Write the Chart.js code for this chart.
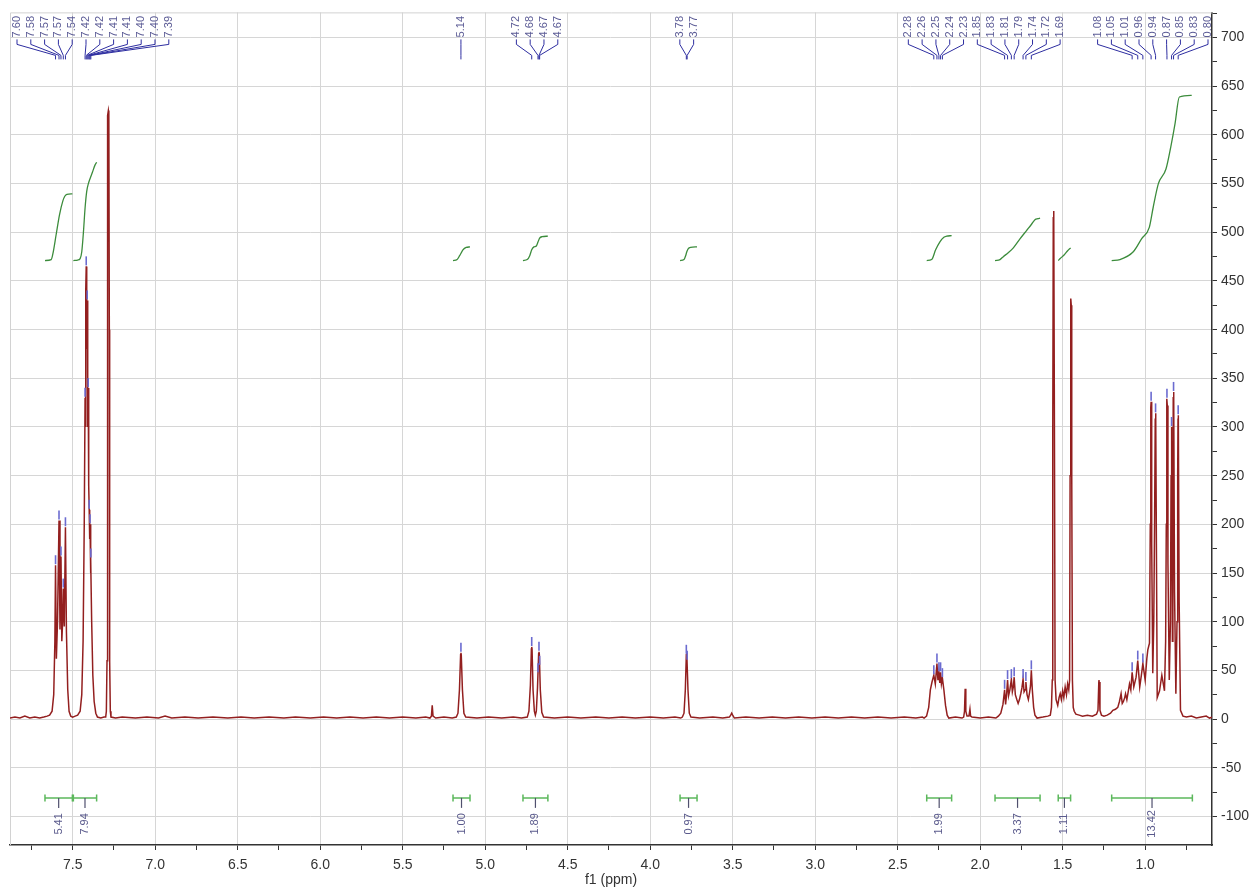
<!DOCTYPE html>
<html><head><meta charset="utf-8">
<script src="https://cdn.jsdelivr.net/npm/chart.js@4.4.1/dist/chart.umd.min.js"></script>
<style>html,body{margin:0;padding:0;background:#fff;overflow:hidden}#wrap{width:1256px;height:891px}</style>
</head><body><div id="wrap"><canvas id="c" width="1256" height="891"></canvas></div>
<script>
// ---------------- DATA ----------------
const xTickValues = [7.5,7.0,6.5,6.0,5.5,5.0,4.5,4.0,3.5,3.0,2.5,2.0,1.5,1.0];
const xTickLabels = ['7.5','7.0','6.5','6.0','5.5','5.0','4.5','4.0','3.5','3.0','2.5','2.0','1.5','1.0'];
const xMinorTicks = [7.75,7.25,6.75,6.25,5.75,5.25,4.75,4.25,3.75,3.25,2.75,2.25,1.75,1.25,0.75];
const yTickValues = [700,650,600,550,500,450,400,350,300,250,200,150,100,50,0,-50,-100];
const yTickLabels = ['700','650','600','550','500','450','400','350','300','250','200','150','100','50','0','-50','-100'];
const yMinorTicks = [725,675,625,575,525,475,425,375,325,275,225,175,125,75,25,-25,-75];

// spectrum: [ppm, intensity]
const specAromatic = [
[7.880,1],[7.850,2],[7.820,1],[7.790,3],[7.760,1],[7.730,2],[7.700,1],[7.675,2],[7.655,3],[7.640,4],[7.625,8],[7.615,25],[7.608,80],[7.604,158],[7.599,62],[7.592,100],[7.583,204],[7.577,92],[7.571,167],[7.566,80],[7.561,100],[7.557,134],[7.551,95],[7.544,197],[7.538,90],[7.530,30],[7.522,8],[7.512,3],[7.500,2],
[7.485,3],[7.470,4],[7.455,8],[7.445,25],[7.437,80],[7.430,200],[7.425,330],[7.422,300],[7.420,440],[7.418,465],[7.416,430],[7.414,380],[7.412,430],[7.409,300],[7.406,340],[7.403,240],[7.400,215],[7.397,185],[7.395,200],[7.392,150],[7.390,165],[7.385,100],[7.378,45],[7.370,18],[7.360,6],[7.350,2],[7.330,1],[7.310,2],
[7.300,2],[7.296,8],[7.292,60],[7.290,400],[7.287,620],[7.284,625],[7.281,620],[7.278,400],[7.276,60],[7.272,8],[7.268,2],[7.240,1]
];
const specMiddle = [
[7.200,2],[7.120,1],[7.050,2],[6.980,1],[6.940,3],[6.900,1],[6.820,2],[6.740,1],[6.650,2],[6.560,1],[6.480,2],[6.400,1],[6.310,2],[6.220,1],[6.150,2],[6.060,1],[5.980,2],[5.900,1],[5.820,2],[5.740,1],[5.660,2],[5.580,1],[5.500,2],[5.420,1],[5.360,2],[5.335,1],[5.326,3],[5.321,14],[5.316,3],[5.300,1],[5.250,2],[5.200,1],[5.175,2],[5.165,6],[5.156,30],[5.149,66],[5.147,68],[5.145,66],[5.138,30],[5.129,6],[5.118,2],[5.050,1],[4.980,2],[4.900,1],[4.830,2],[4.780,1],[4.745,2],[4.735,8],[4.726,35],[4.720,72],[4.718,74],[4.716,72],[4.710,30],[4.702,8],[4.696,4],[4.690,8],[4.683,32],[4.676,67],[4.674,69],[4.672,67],[4.666,30],[4.657,7],[4.646,2],[4.580,1],[4.500,2],[4.420,1],[4.330,2],[4.250,1],[4.170,2],[4.090,1],[4.000,2],[3.920,1],[3.850,2],[3.815,1],[3.805,2],[3.795,6],[3.787,30],[3.781,66],[3.779,68],[3.777,66],[3.771,30],[3.763,6],[3.753,2],[3.700,1],[3.620,2],[3.560,1],[3.520,2],[3.512,4],[3.506,6],[3.500,4],[3.490,1],[3.420,2],[3.340,1],[3.260,2],[3.180,1],[3.100,2],[3.020,1],[2.940,2],[2.860,1],[2.780,2],[2.700,1],[2.620,2],[2.540,1],[2.460,2],[2.390,1],[2.350,2]
];
const specAliphatic = [
[2.340,1],[2.325,3],[2.312,12],[2.302,30],[2.292,38],[2.281,45],[2.272,36],[2.262,57],[2.256,40],[2.250,48],[2.245,37],[2.240,48],[2.235,36],[2.229,42],[2.220,30],[2.210,14],[2.200,4],[2.190,1],[2.150,2],[2.110,1],[2.100,2],[2.095,8],[2.091,31],[2.087,8],[2.080,3],[2.068,3],[2.062,10],[2.058,3],[2.050,2],[2.000,1],[1.950,2],[1.905,1],
[1.890,3],[1.875,6],[1.862,15],[1.852,30],[1.846,15],[1.840,25],[1.834,40],[1.828,24],[1.820,30],[1.811,41],[1.805,28],[1.799,33],[1.794,43],[1.787,25],[1.778,20],[1.770,16],[1.762,20],[1.754,26],[1.747,32],[1.740,41],[1.734,28],[1.728,30],[1.723,38],[1.716,25],[1.708,20],[1.700,28],[1.695,34],[1.690,50],[1.684,30],[1.676,12],[1.668,4],[1.655,1],[1.620,2],[1.590,3],
[1.575,4],[1.568,12],[1.563,40],[1.560,300],[1.557,515],[1.555,522],[1.553,515],[1.550,300],[1.546,40],[1.540,20],[1.530,14],[1.522,22],[1.515,26],[1.508,20],[1.500,29],[1.493,22],[1.485,33],[1.477,25],[1.470,36],[1.463,30],[1.458,40],[1.455,250],[1.452,425],[1.450,432],[1.448,425],[1.445,250],[1.441,40],[1.436,12],[1.430,8],[1.420,5],[1.400,4],[1.380,3],[1.350,4],[1.320,3],[1.295,5],[1.286,9],[1.281,38],[1.280,40],[1.279,38],[1.274,9],[1.265,4],[1.250,3],[1.230,4],[1.210,6],[1.196,9],[1.180,10],[1.166,12],[1.156,18],[1.146,26],[1.139,16],[1.132,18],[1.124,22],[1.119,26],[1.111,20],[1.103,28],[1.095,36],[1.087,30],[1.079,48],[1.069,33],[1.055,43],[1.045,60],[1.033,33],[1.023,45],[1.014,57],[1.000,40],[0.990,62],[0.984,71],[0.974,78],[0.969,200],[0.966,320],[0.964,326],[0.962,320],[0.959,180],[0.954,47],[0.948,100],[0.943,200],[0.939,308],[0.937,314],[0.935,308],[0.932,180],[0.927,22],[0.913,29],[0.899,45],[0.883,29],[0.876,80],[0.872,200],[0.870,322],[0.868,329],[0.866,322],[0.862,160],[0.854,40],[0.847,100],[0.843,250],[0.841,296],[0.840,300],[0.838,250],[0.835,80],[0.832,120],[0.830,330],[0.828,336],[0.826,330],[0.822,130],[0.814,26],[0.807,100],[0.803,250],[0.801,308],[0.800,312],[0.798,308],[0.794,120],[0.786,9],[0.771,3],[0.750,2],[0.720,3],[0.690,1],[0.660,2],[0.630,3],[0.610,1],[0.595,2]
];

// integral curves: [ppm, value]
const intAr1 = [[7.668,471],[7.630,472],[7.620,478],[7.600,498],[7.580,518],[7.560,532],[7.548,537],[7.535,539],[7.502,539.5]];
const intAr2 = [[7.496,471],[7.470,471.5],[7.455,473],[7.445,480],[7.435,500],[7.425,525],[7.415,542],[7.405,550],[7.395,555],[7.380,562],[7.365,569],[7.355,572]];
const int514 = [[5.195,471],[5.170,472],[5.155,476],[5.145,479],[5.135,482],[5.115,484.5],[5.092,485]];
const int470 = [[4.771,471],[4.745,472],[4.730,476],[4.718,482],[4.705,485],[4.690,486],[4.680,490],[4.670,494],[4.655,495.5],[4.620,496]];
const int378 = [[3.819,471],[3.795,472],[3.785,476],[3.778,480],[3.770,483],[3.755,484.5],[3.716,485]];
const int225 = [[2.324,471],[2.294,472],[2.270,482],[2.245,490],[2.220,495],[2.203,496],[2.173,496.6]];
const int180 = [[1.910,471],[1.880,472],[1.860,475],[1.830,479],[1.799,484],[1.760,493],[1.718,502],[1.690,508],[1.668,513],[1.650,514],[1.637,514.5]];
const int150 = [[1.527,471],[1.515,473],[1.490,477],[1.470,481],[1.452,484]];
const int090 = [[1.203,471],[1.153,472],[1.072,480],[1.021,493.5],[0.975,505],[0.951,526],[0.920,550],[0.874,565],[0.845,587.6],[0.819,611.6],[0.793,639],[0.718,640.6]];

// peak picking: label text and shift of each picked peak
const pickLabels = [
 ['7.60','7.58','7.57','7.57','7.54'],
 ['7.42','7.42','7.41','7.41','7.40','7.40','7.39'],
 ['5.14'],
 ['4.72','4.68','4.67','4.67'],
 ['3.78','3.77'],
 ['2.28','2.26','2.25','2.24','2.23'],
 ['1.85','1.83','1.81','1.79','1.74','1.72','1.69'],
 ['1.08','1.05','1.01','0.96','0.94','0.87','0.85','0.83','0.80']
];
const pickShifts = [
 [7.604,7.583,7.571,7.557,7.544],
 [7.425,7.418,7.412,7.406,7.400,7.395,7.390],
 [5.147],
 [4.718,4.680,4.674,4.670],
 [3.781,3.776],
 [2.281,2.262,2.250,2.240,2.229],
 [1.852,1.834,1.811,1.794,1.740,1.723,1.690],
 [1.079,1.045,1.014,0.964,0.937,0.868,0.840,0.828,0.800]
];

// integration regions
const integralValues = ['5.41','7.94','1.00','1.89','0.97','1.99','3.37','1.11','13.42'];
const integralFrom   = [7.668,7.496,5.195,4.771,3.819,2.324,1.910,1.527,1.203];
const integralTo     = [7.502,7.355,5.092,4.620,3.716,2.173,1.637,1.452,0.714];

// ---------------- CHART ----------------
const FONT = '"Liberation Sans", Arial, sans-serif';
Chart.defaults.font.family = FONT;
const spectrum = specAromatic.concat(specMiddle, specAliphatic);
const toXY = arr => arr.map(([p, v]) => ({x: p, y: v}));
const intCurves = [intAr1, intAr2, int514, int470, int378, int225, int180, int150, int090];

function specAt(ppm) {
  for (let i = 0; i < spectrum.length - 1; i++) {
    const [p1, v1] = spectrum[i], [p2, v2] = spectrum[i + 1];
    if (ppm <= p1 && ppm >= p2) return v1 + (v2 - v1) * (ppm - p1) / (p2 - p1);
  }
  return 0;
}
const isOn = (v, list) => list.some(t => Math.abs(t - v) < 1e-6);

const annot = {
  id: 'nmrAnnot',
  beforeDatasetsDraw(chart) {
    const {ctx, chartArea: a} = chart;
    ctx.save();
    ctx.strokeStyle = '#d2d2d2'; ctx.lineWidth = 1;
    ctx.beginPath();
    ctx.moveTo(a.left + 0.5, a.bottom); ctx.lineTo(a.left + 0.5, a.top + 0.5); ctx.lineTo(a.right, a.top + 0.5);
    ctx.stroke();
    ctx.restore();
  },
  afterDatasetsDraw(chart) {
    const {ctx, scales: {x, y}} = chart;
    ctx.save();
    // peak pick markers
    ctx.strokeStyle = '#6b6bd0'; ctx.lineWidth = 1.6;
    pickShifts.flat().forEach(p => {
      const px = x.getPixelForValue(p), py = y.getPixelForValue(specAt(p));
      ctx.beginPath(); ctx.moveTo(px, py - 1); ctx.lineTo(px, py - 10); ctx.stroke();
    });
    // integration bars
    const yb = y.getPixelForValue(-81);
    ctx.font = '11px ' + FONT;
    integralValues.forEach((t, i) => {
      const x1 = x.getPixelForValue(integralFrom[i]), x2 = x.getPixelForValue(integralTo[i]);
      ctx.strokeStyle = '#5cb85c'; ctx.lineWidth = 1.5;
      ctx.beginPath();
      ctx.moveTo(x1, yb); ctx.lineTo(x2, yb);
      ctx.moveTo(x1, yb - 3.5); ctx.lineTo(x1, yb + 3.5);
      ctx.moveTo(x2, yb - 3.5); ctx.lineTo(x2, yb + 3.5);
      ctx.stroke();
      const xc = (x1 + x2) / 2;
      ctx.strokeStyle = '#50506e'; ctx.lineWidth = 1.2;
      ctx.beginPath(); ctx.moveTo(xc, yb); ctx.lineTo(xc, yb + 10); ctx.stroke();
      ctx.save();
      ctx.translate(xc, yb + 26); ctx.rotate(-Math.PI / 2);
      ctx.fillStyle = '#5a5a8c'; ctx.textAlign = 'center'; ctx.textBaseline = 'middle';
      ctx.fillText(t, 0, 0);
      ctx.restore();
    });
    ctx.restore();
  },
  afterDraw(chart) {
    const {ctx, chartArea: a, scales: {x}} = chart;
    const S = 13.8;
    let blocks = pickShifts.map((g, i) => {
      const px = g.map(p => x.getPixelForValue(p));
      return {labels: pickLabels[i].slice(), px, c: px.reduce((s, v) => s + v, 0) / px.length};
    });
    let merged = true;
    while (merged) {
      merged = false;
      for (let i = 0; i < blocks.length - 1; i++) {
        const A = blocks[i], B = blocks[i + 1];
        if (A.c + A.labels.length * S / 2 > B.c - B.labels.length * S / 2) {
          const n = A.labels.length + B.labels.length;
          blocks.splice(i, 2, {labels: A.labels.concat(B.labels), px: A.px.concat(B.px),
            c: (A.c * A.labels.length + B.c * B.labels.length) / n});
          merged = true; break;
        }
      }
    }
    const top = a.top;
    ctx.save();
    ctx.font = '11px ' + FONT;
    blocks.forEach(b => {
      const n = b.labels.length;
      let start = b.c - (n - 1) / 2 * S;
      if (start < a.left + 7) start = a.left + 7;
      if (start + (n - 1) * S > a.right - 4) start = a.right - 4 - (n - 1) * S;
      b.labels.forEach((t, i) => {
        const lx = start + i * S, px = b.px[i];
        ctx.strokeStyle = '#2d2da0'; ctx.lineWidth = 1;
        ctx.beginPath();
        ctx.moveTo(lx, top + 27); ctx.lineTo(lx, top + 32);
        ctx.lineTo(px, top + 43); ctx.lineTo(px, top + 47);
        ctx.stroke();
        ctx.save();
        ctx.translate(lx, top + 25); ctx.rotate(-Math.PI / 2);
        ctx.fillStyle = '#5c5c96'; ctx.textAlign = 'left'; ctx.textBaseline = 'middle';
        ctx.fillText(t, 0, 0);
        ctx.restore();
      });
    });
    ctx.restore();
  }
};

const datasets = [{
  data: toXY(spectrum), borderColor: '#931f1f', borderWidth: 1.5, pointRadius: 0, showLine: true, tension: 0, order: 2
}].concat(intCurves.map(c => ({
  data: toXY(c), borderColor: '#3c8c3c', borderWidth: 1.3, pointRadius: 0, showLine: true,
  cubicInterpolationMode: 'monotone', order: 1
})));

new Chart(document.getElementById('c'), {
  type: 'scatter',
  data: {datasets},
  options: {
    responsive: false, animation: false, devicePixelRatio: 1,
    layout: {padding: {left: 10, top: 12, right: 0, bottom: 0}},
    plugins: {legend: {display: false}, tooltip: {enabled: false}},
    scales: {
      x: {
        type: 'linear', reverse: true, min: 0.595, max: 7.880, position: 'bottom',
        afterFit: s => { s.height = 46; },
        afterBuildTicks: s => { s.ticks = xTickValues.concat(xMinorTicks).sort((p, q) => p - q).map(v => ({value: v})); },
        grid: {
          color: c => (c.tick && isOn(c.tick.value, xTickValues)) ? '#d6d6d6' : 'rgba(0,0,0,0)',
          tickColor: '#333', tickLength: 5, lineWidth: 1
        },
        border: {display: true, color: '#333', width: 1.5},
        ticks: {
          autoSkip: false, maxRotation: 0, minRotation: 0, padding: 7, color: '#333', font: {size: 14},
          callback: v => { const i = xTickValues.findIndex(t => Math.abs(t - v) < 1e-6); return i >= 0 ? xTickLabels[i] : ''; }
        },
        title: {display: true, text: 'f1 (ppm)', color: '#333', font: {size: 14}, padding: {top: 0, bottom: 2}}
      },
      y: {
        type: 'linear', position: 'right', min: -129.4, max: 725.9,
        afterFit: s => { s.width = 44; },
        afterBuildTicks: s => { s.ticks = yTickValues.concat(yMinorTicks).sort((p, q) => p - q).map(v => ({value: v})); },
        grid: {
          color: c => (c.tick && isOn(c.tick.value, yTickValues)) ? '#d6d6d6' : 'rgba(0,0,0,0)',
          tickColor: '#333', tickLength: 5, lineWidth: 1
        },
        border: {display: true, color: '#333', width: 1.5},
        ticks: {
          autoSkip: false, padding: 4, color: '#333', font: {size: 14},
          callback: v => { const i = yTickValues.findIndex(t => Math.abs(t - v) < 1e-6); return i >= 0 ? yTickLabels[i] : ''; }
        }
      }
    }
  },
  plugins: [annot]
});
</script></body></html>
